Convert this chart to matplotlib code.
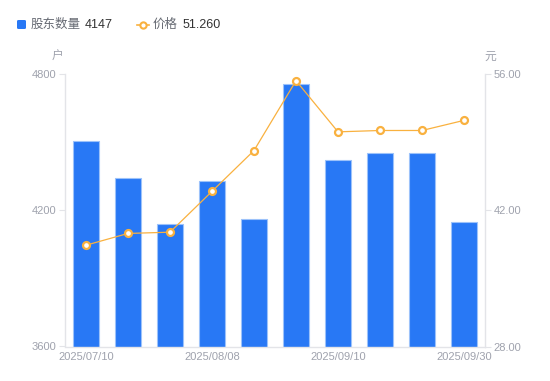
import matplotlib
matplotlib.use("Agg")
import matplotlib.pyplot as plt
from matplotlib.patches import FancyBboxPatch
from matplotlib.lines import Line2D

plt.rcParams['font.family'] = ['Liberation Sans', 'Noto Sans CJK SC', 'DejaVu Sans']

# ---- data ----
holders = [4506, 4343, 4141, 4328, 4163, 4758, 4420, 4453, 4453, 4147]
price = [38.42, 39.63, 39.76, 43.96, 48.16, 55.34, 50.08, 50.22, 50.22, 51.26]
x_tick_pos = [0, 3, 6, 9]
x_tick_labels = ['2025/07/10', '2025/08/08', '2025/09/10', '2025/09/30']
left_ticks = [3600, 4200, 4800]
right_ticks = [28.00, 42.00, 56.00]
legend_holders_label = '股东数量'
legend_price_label = '价格'
legend_holders_value = '4147'
legend_price_value = '51.260'
left_unit = '户'
right_unit = '元'

BLUE = '#2878f5'
ORANGE = '#f9b13f'
GRAY_TXT = '#9fa2ad'
AXIS = '#e3e4e8'

W, H = 550, 381
fig = plt.figure(figsize=(W / 100, H / 100), dpi=100)
x0, x1, ytop, ybot = 65, 485, 74.3, 346.5
ax = fig.add_axes([x0 / W, 1 - ybot / H, (x1 - x0) / W, (ybot - ytop) / H])

xs = list(range(len(holders)))
ax.bar(xs, holders, width=0.6, color=BLUE, edgecolor='#9cc2fa', linewidth=0.8, zorder=2)
ax.set_xlim(-0.5, len(holders) - 0.5)
ax.set_ylim(left_ticks[0], left_ticks[-1])
ax.set_yticks(left_ticks)
ax.set_yticklabels([str(v) for v in left_ticks])
ax.set_xticks(x_tick_pos)
ax.set_xticklabels(x_tick_labels)

ax2 = ax.twinx()
ax2.plot(xs, price, color=ORANGE, linewidth=0.9, marker='o', markersize=5,
         markerfacecolor='white', markeredgecolor=ORANGE, markeredgewidth=1.6, zorder=3)
ax2.set_ylim(right_ticks[0], right_ticks[-1])
ax2.set_yticks(right_ticks)
ax2.set_yticklabels([f'{v:.2f}' for v in right_ticks])

for a in (ax, ax2):
    for s in a.spines.values():
        s.set_color(AXIS)
        s.set_linewidth(1.0)
    a.spines['top'].set_visible(False)
ax.spines['right'].set_visible(False)
ax2.spines['left'].set_visible(False)
ax2.spines['bottom'].set_visible(False)

ax.tick_params(axis='y', length=4, width=0.8, color=AXIS, labelcolor=GRAY_TXT, labelsize=8, pad=2)
ax2.tick_params(axis='y', length=4, width=0.8, color=AXIS, labelcolor=GRAY_TXT, labelsize=8, pad=2)
ax.tick_params(axis='x', length=0, labelcolor=GRAY_TXT, labelsize=8, pad=4)

# units
fig.text(58 / W, 1 - 57 / H, left_unit, ha='center', va='center', color=GRAY_TXT, fontsize=8.5)
fig.text(490 / W, 1 - 57 / H, right_unit, ha='center', va='center', color=GRAY_TXT, fontsize=8.5)

# legend
sq = FancyBboxPatch((17 / W, 1 - 29 / H), 9 / W, 9 / H, boxstyle='round,pad=0,rounding_size=0.003',
                    transform=fig.transFigure, color=BLUE, linewidth=0)
fig.patches.append(sq)
fig.text(31 / W, 1 - 24.5 / H, legend_holders_label, ha='left', va='center', color='#666a73', fontsize=9)
fig.text(85 / W, 1 - 24.5 / H, legend_holders_value, ha='left', va='center', color='#333333', fontsize=9)
fig.lines.append(Line2D([137 / W, 149 / W], [1 - 24.5 / H, 1 - 24.5 / H], transform=fig.transFigure,
                        color=ORANGE, linewidth=1.2))
fig.lines.append(Line2D([143 / W], [1 - 24.5 / H], transform=fig.transFigure, marker='o', markersize=4.5,
                        markerfacecolor='white', markeredgecolor=ORANGE, markeredgewidth=1.5))
fig.text(153 / W, 1 - 24.5 / H, legend_price_label, ha='left', va='center', color='#666a73', fontsize=9)
fig.text(183 / W, 1 - 24.5 / H, legend_price_value, ha='left', va='center', color='#333333', fontsize=9)

fig.savefig('out.png', dpi=100)
